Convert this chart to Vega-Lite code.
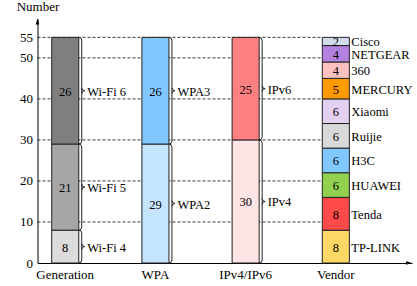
{
  "$schema": "https://vega.github.io/schema/vega-lite/v6.json",
  "width": 374.5,
  "height": 244.5,
  "autosize": {"type": "none"},
  "padding": {"left": 37.5, "top": 18.5, "right": 5, "bottom": 23},
  "config": {"view": {"stroke": null}, "font": "Liberation Serif", "text": {"font": "Liberation Serif"}},
  "data": {"values": [
    {"col": "Generation", "item": "Wi-Fi 4", "n": 8, "ord": 1},
    {"col": "Generation", "item": "Wi-Fi 5", "n": 21, "ord": 2},
    {"col": "Generation", "item": "Wi-Fi 6", "n": 26, "ord": 3},
    {"col": "WPA", "item": "WPA2", "n": 29, "ord": 1},
    {"col": "WPA", "item": "WPA3", "n": 26, "ord": 2},
    {"col": "IPv4/IPv6", "item": "IPv4", "n": 30, "ord": 1},
    {"col": "IPv4/IPv6", "item": "IPv6", "n": 25, "ord": 2},
    {"col": "Vendor", "item": "TP-LINK", "n": 8, "ord": 1},
    {"col": "Vendor", "item": "Tenda", "n": 8, "ord": 2},
    {"col": "Vendor", "item": "HUAWEI", "n": 6, "ord": 3},
    {"col": "Vendor", "item": "H3C", "n": 6, "ord": 4},
    {"col": "Vendor", "item": "Ruijie", "n": 6, "ord": 5},
    {"col": "Vendor", "item": "Xiaomi", "n": 6, "ord": 6},
    {"col": "Vendor", "item": "MERCURY", "n": 5, "ord": 7},
    {"col": "Vendor", "item": "360", "n": 4, "ord": 8},
    {"col": "Vendor", "item": "NETGEAR", "n": 4, "ord": 9},
    {"col": "Vendor", "item": "Cisco", "n": 2, "ord": 10}
  ]},
  "transform": [
    {"stack": "n", "groupby": ["col"], "sort": [{"field": "ord", "order": "ascending"}], "as": ["lo", "hi"]}
  ],
  "layer": [
    {
      "data": {"values": [{"g": 10}, {"g": 20}, {"g": 30}, {"g": 40}, {"g": 50}, {"g": 55}]},
      "transform": [],
      "mark": {"type": "rule", "strokeDash": [3, 2], "color": "#222", "strokeWidth": 0.9},
      "encoding": {
        "x": {"datum": "Generation", "bandPosition": -0.525,
          "scale": {"type": "band", "domain": ["Generation", "WPA", "IPv4/IPv6", "Vendor"], "paddingInner": 0.7, "paddingOuter": 0.426, "align": 0.185},
          "axis": {"title": null, "labelAngle": 0, "ticks": false, "domainColor": "#000", "labelFontSize": 13, "labelPadding": 5, "labelDx": 6, "labelColor": "#000"}},
        "x2": {"datum": "Vendor", "bandPosition": 0},
        "y": {"field": "g", "type": "quantitative",
          "scale": {"domain": [0, 59.6], "nice": false},
          "axis": {"values": [0, 10, 20, 30, 40, 50, 55], "title": "Number", "titleAngle": 0, "titleX": 0, "titleY": -8, "titleAlign": "center", "titleBaseline": "alphabetic", "titleFontWeight": "normal", "titleFontSize": 13, "titleColor": "#000", "ticks": false, "grid": false, "domainColor": "#000", "labelFontSize": 13, "labelPadding": 5, "labelColor": "#000"}}
      }
    },
    {
      "mark": {"type": "bar", "stroke": "#222", "strokeWidth": 1},
      "encoding": {
        "x": {"field": "col", "type": "nominal"},
        "y": {"field": "lo", "type": "quantitative"},
        "y2": {"field": "hi"},
        "color": {"field": "item", "type": "nominal", "legend": null,
          "scale": {"domain": ["Wi-Fi 4", "Wi-Fi 5", "Wi-Fi 6", "WPA2", "WPA3", "IPv4", "IPv6", "TP-LINK", "Tenda", "HUAWEI", "H3C", "Ruijie", "Xiaomi", "MERCURY", "360", "NETGEAR", "Cisco"],
            "range": ["#dcdcdc", "#a6a6a6", "#7f7f7f", "#c4e4ff", "#80c6ff", "#ffe4e6", "#ff8080", "#ffd966", "#ff4a4a", "#92d050", "#80c8ff", "#d9d9d9", "#e3cff0", "#ff9900", "#ffc0c0", "#b381df", "#d3dceb"]}}
      }
    },
    {
      "mark": {"type": "text", "fontSize": 12.5, "color": "#000", "dy": 1},
      "encoding": {
        "x": {"field": "col", "type": "nominal"},
        "y": {"field": "n", "type": "quantitative", "stack": "zero", "bandPosition": 0.5},
        "order": {"field": "ord"},
        "text": {"field": "n"}
      }
    },
    {
      "transform": [{"filter": "datum.col != 'Vendor'"}],
      "mark": {"type": "rule", "xOffset": 16.5, "yOffset": 3, "y2Offset": -3, "color": "#222", "strokeWidth": 1},
      "encoding": {
        "x": {"field": "col", "type": "nominal"},
        "y": {"field": "hi", "type": "quantitative"},
        "y2": {"field": "lo"}
      }
    },
    {
      "transform": [{"filter": "datum.col != 'Vendor'"}],
      "mark": {"type": "point", "shape": "M -1 0 Q 0 0 0 1", "xOffset": 16.5, "size": 36, "filled": false, "stroke": "#222", "strokeWidth": 1, "opacity": 1},
      "encoding": {
        "x": {"field": "col", "type": "nominal"},
        "y": {"field": "hi", "type": "quantitative"}
      }
    },
    {
      "transform": [{"filter": "datum.col != 'Vendor'"}],
      "mark": {"type": "point", "shape": "M 0 -1 Q 0 0 -1 0", "xOffset": 16.5, "size": 36, "filled": false, "stroke": "#222", "strokeWidth": 1, "opacity": 1},
      "encoding": {
        "x": {"field": "col", "type": "nominal"},
        "y": {"field": "lo", "type": "quantitative"}
      }
    },
    {
      "transform": [{"filter": "datum.col != 'Vendor'"}],
      "mark": {"type": "point", "shape": "M 0 -1 Q 0 0 1 0 Q 0 0 0 1", "xOffset": 16.5, "size": 36, "filled": false, "stroke": "#222", "strokeWidth": 1, "opacity": 1},
      "encoding": {
        "x": {"field": "col", "type": "nominal"},
        "y": {"field": "n", "type": "quantitative", "stack": "zero", "bandPosition": 0.5},
        "order": {"field": "ord"}
      }
    },
    {
      "transform": [{"filter": "datum.col != 'Vendor'"}],
      "mark": {"type": "text", "align": "left", "xOffset": 22, "fontSize": 12.5, "color": "#000", "dy": 1},
      "encoding": {
        "x": {"field": "col", "type": "nominal"},
        "y": {"field": "n", "type": "quantitative", "stack": "zero", "bandPosition": 0.5},
        "order": {"field": "ord"},
        "text": {"field": "item"}
      }
    },
    {
      "transform": [{"filter": "datum.col == 'Vendor'"}],
      "mark": {"type": "text", "align": "left", "xOffset": 15.5, "fontSize": 12.5, "color": "#000", "dy": 1},
      "encoding": {
        "x": {"field": "col", "type": "nominal"},
        "y": {"field": "n", "type": "quantitative", "stack": "zero", "bandPosition": 0.5},
        "order": {"field": "ord"},
        "text": {"field": "item"}
      }
    },
    {
      "data": {"values": [{}]},
      "transform": [],
      "mark": {"type": "point", "shape": "M 0 0 L -0.6 2 L 0.6 2 Z", "size": 36, "filled": true, "color": "#000", "opacity": 1},
      "encoding": {
        "x": {"datum": "Generation", "bandPosition": -0.525},
        "y": {"datum": 59.6, "type": "quantitative"}
      }
    },
    {
      "data": {"values": [{}]},
      "transform": [],
      "mark": {"type": "point", "shape": "M 0 0 L -2 -0.6 L -2 0.6 Z", "size": 36, "filled": true, "color": "#000", "opacity": 1},
      "encoding": {
        "x": {"datum": "Vendor", "bandPosition": 3.315},
        "y": {"datum": 0, "type": "quantitative"}
      }
    }
  ]
}
